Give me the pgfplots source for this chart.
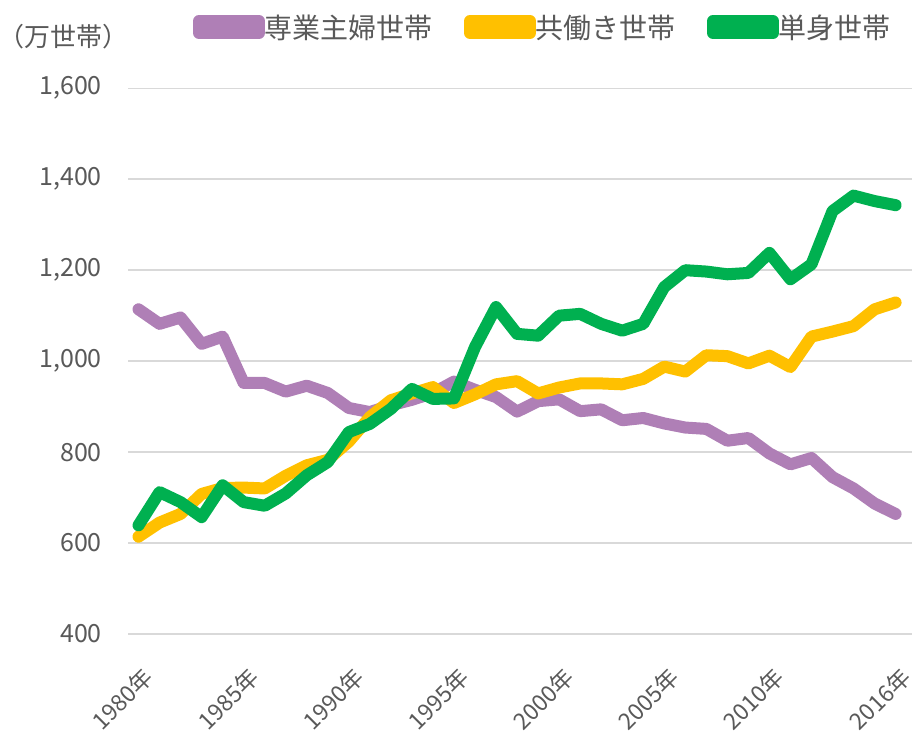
\documentclass[border=0pt]{standalone}
\usepackage{pgfplots}
\pgfplotsset{compat=1.18}
\usepackage{fontspec}
\setmainfont{Noto Sans CJK JP}
\definecolor{cpurple}{HTML}{AF7FB6}
\definecolor{cyellow}{HTML}{FFC000}
\definecolor{cgreen}{HTML}{00B050}
\definecolor{ctext}{HTML}{595959}
\definecolor{cgrid}{HTML}{D9D9D9}
\begin{document}
\begin{tikzpicture}
\useasboundingbox (0,0) rectangle (913bp,732bp);
\begin{axis}[
  at={(128bp,98bp)}, anchor=south west,
  scale only axis, width=784bp, height=545.7bp,
  xmin=1979.5, xmax=2016.78, ymin=400, ymax=1600,
  ytick={400,600,...,1600},
  xtick={1980,1985,1990,1995,2000,2005,2010,2016},
  xticklabels={1980年,1985年,1990年,1995年,2000年,2005年,2010年,2016年},
  ymajorgrids, major grid style={color=cgrid, line width=1.5bp},
  axis line style={draw=none}, major tick length=0pt,
  /pgf/number format/assume math mode=true,
  /pgf/number format/1000 sep={,},
  tick label style={text=ctext},
  yticklabel style={anchor=east, inner sep=0pt, xshift=-26bp, font=\fontsize{25bp}{30bp}\selectfont},
  xticklabel style={xshift=3bp, yshift=-31bp, rotate=45, anchor=north east, inner sep=0pt, font=\fontsize{23bp}{27bp}\selectfont},
  clip=false,
  every axis plot/.append style={line width=12bp, line cap=round, line join=round, mark=none},
  legend columns=3,
  legend style={at={(0.0829,1.1123)}, anchor=west, draw=none, fill=none,
    inner sep=0pt, outer sep=0pt, text=ctext,
    font=\fontsize{28bp}{32bp}\selectfont,
    nodes={inner sep=0pt},
    /tikz/every odd column/.append style={column sep=0bp},
    /tikz/every even column/.append style={column sep=31bp}},
  legend image code/.code={
    \path (0bp,-6bp) rectangle (60bp,6bp);
    \draw[line width=12bp, line cap=round] (6bp,0bp) -- (54bp,0bp);
  },
]
\addplot[color=cpurple] coordinates {
(1980,1114)(1981,1082)(1982,1096)(1983,1038)(1984,1054)(1985,952)(1986,952)(1987,933)(1988,946)(1989,930)
(1990,897)(1991,888)(1992,903)(1993,915)(1994,930)(1995,955)(1996,937)(1997,921)(1998,889)(1999,912)
(2000,916)(2001,890)(2002,894)(2003,870)(2004,875)(2005,863)(2006,854)(2007,851)(2008,825)(2009,831)
(2010,797)(2011,773)(2012,787)(2013,745)(2014,720)(2015,687)(2016,664)};
\addlegendentry{専業主婦世帯}
\addplot[color=cyellow] coordinates {
(1980,614)(1981,645)(1982,664)(1983,708)(1984,721)(1985,722)(1986,720)(1987,748)(1988,771)(1989,783)
(1990,823)(1991,877)(1992,914)(1993,929)(1994,943)(1995,908)(1996,927)(1997,949)(1998,956)(1999,929)
(2000,942)(2001,951)(2002,951)(2003,949)(2004,961)(2005,988)(2006,977)(2007,1013)(2008,1011)(2009,995)
(2010,1012)(2011,987)(2012,1054)(2013,1065)(2014,1077)(2015,1114)(2016,1129)};
\addlegendentry{共働き世帯}
\addplot[color=cgreen] coordinates {
(1980,639)(1981,712)(1982,690)(1983,657)(1984,727)(1985,690)(1986,682)(1987,709)(1988,749)(1989,778)
(1990,844)(1991,862)(1992,895)(1993,939)(1994,917)(1995,918)(1996,1031)(1997,1119)(1998,1060)(1999,1056)
(2000,1100)(2001,1104)(2002,1082)(2003,1067)(2004,1082)(2005,1163)(2006,1200)(2007,1197)(2008,1191)(2009,1194)
(2010,1238)(2011,1180)(2012,1213)(2013,1330)(2014,1364)(2015,1352)(2016,1343)};
\addlegendentry{単身世帯}
\end{axis}
\node[anchor=west, text=ctext, inner sep=0pt, font=\fontsize{26bp}{30bp}\selectfont] at (-2bp,695bp) {（万世帯）};
\end{tikzpicture}
\end{document}
